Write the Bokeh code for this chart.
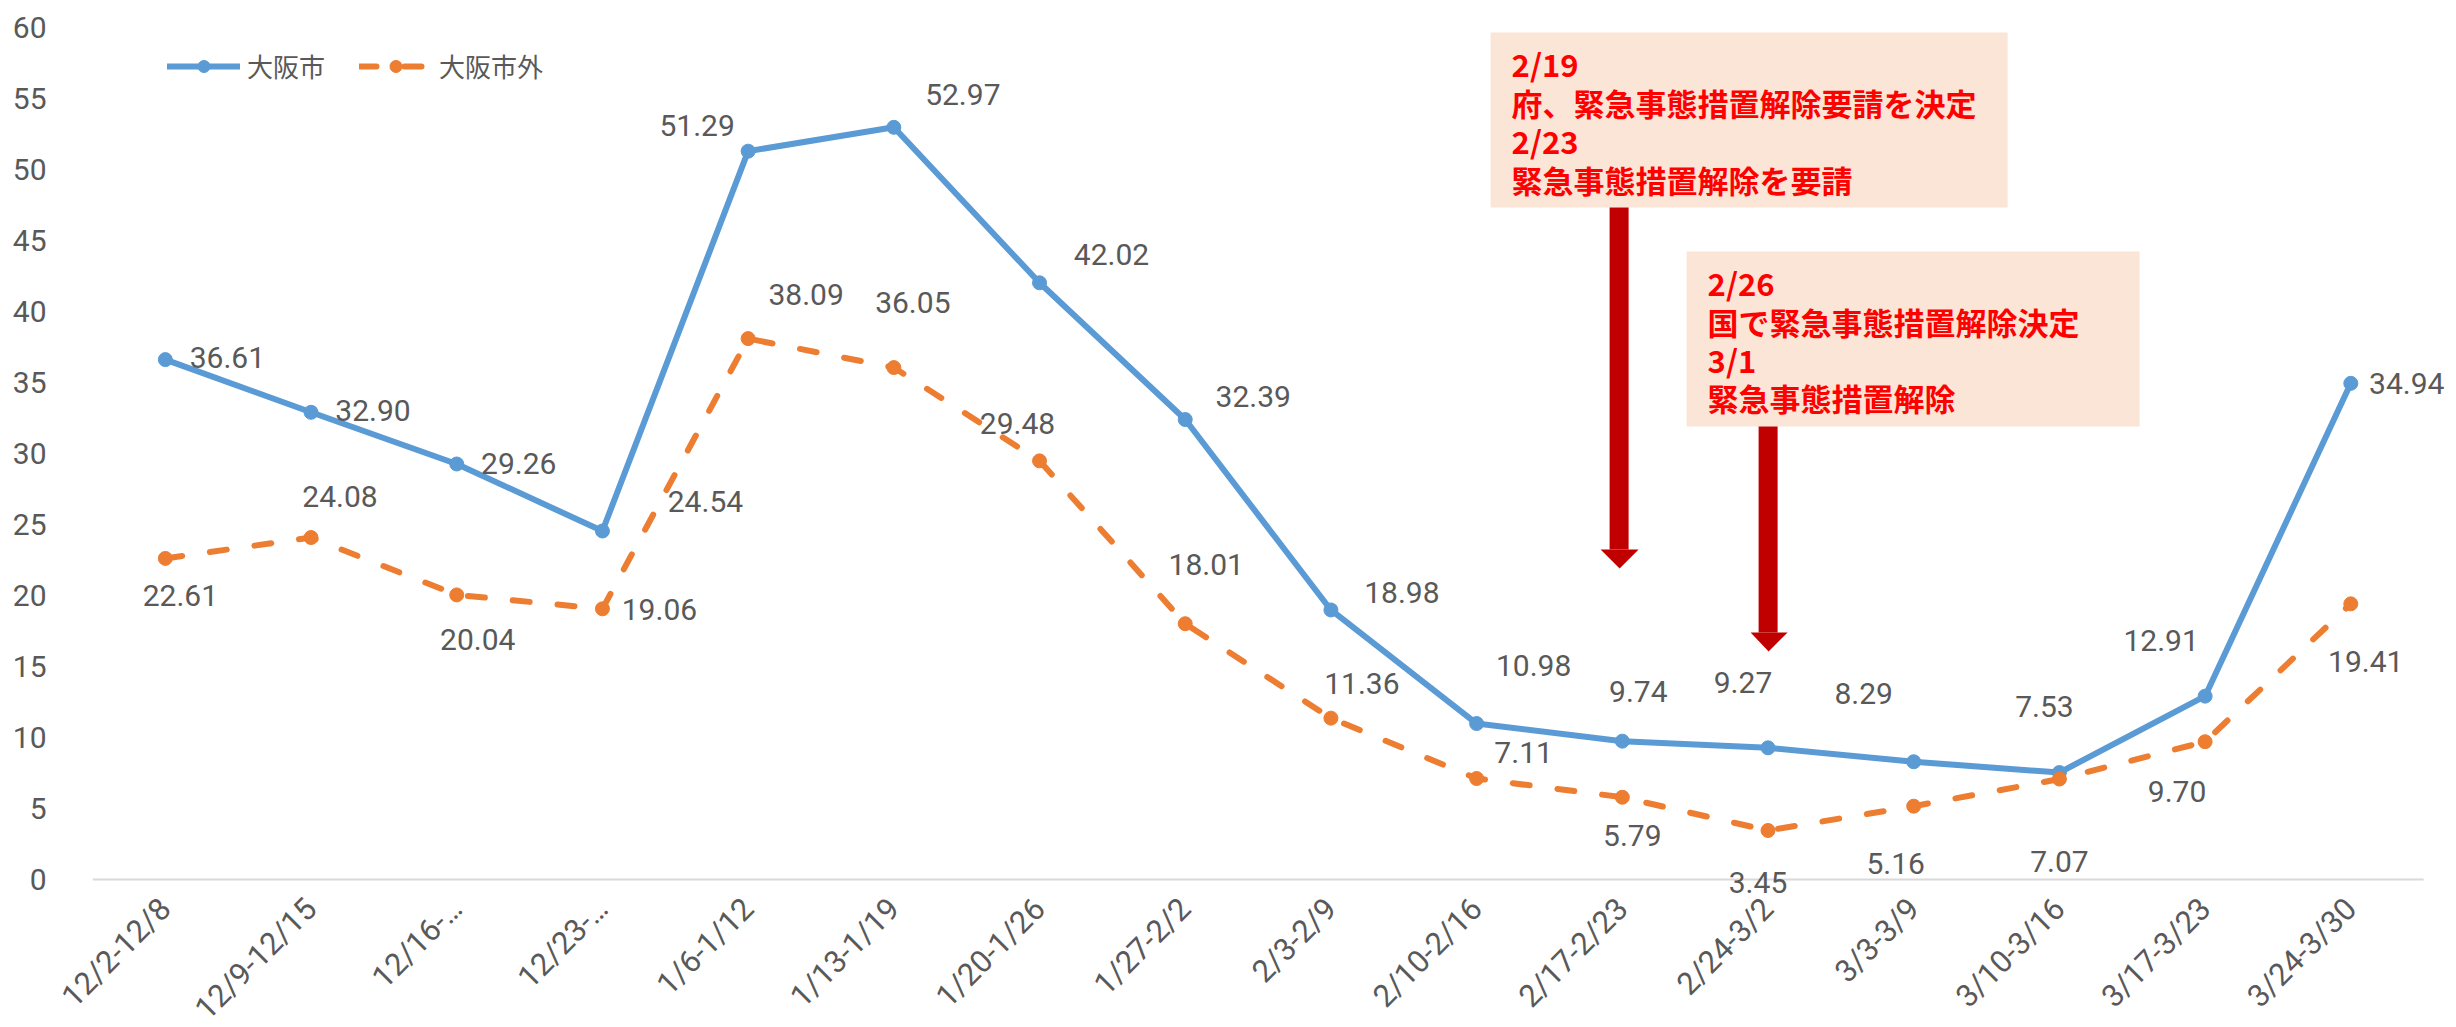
import numpy as np
from bokeh.plotting import figure
from bokeh.models import (ColumnDataSource, LabelSet, Legend, LegendItem, FixedTicker,
                          BoxAnnotation, PolyAnnotation, Label, Range1d)
from bokeh.embed import file_html
from bokeh.resources import INLINE
from bokeh.core.properties import value

# ---------------- data ----------------
weeks = ["12/2-12/8", "12/9-12/15", "12/16-…", "12/23-…", "1/6-1/12", "1/13-1/19",
         "1/20-1/26", "1/27-2/2", "2/3-2/9", "2/10-2/16", "2/17-2/23", "2/24-3/2",
         "3/3-3/9", "3/10-3/16", "3/17-3/23", "3/24-3/30"]
osaka_city = [36.61, 32.90, 29.26, 24.54, 51.29, 52.97, 42.02, 32.39, 18.98, 10.98,
              9.74, 9.27, 8.29, 7.53, 12.91, 34.94]
outside_city = [22.61, 24.08, 20.04, 19.06, 38.09, 36.05, 29.48, 18.01, 11.36, 7.11,
                5.79, 3.45, 5.16, 7.07, 9.70, 19.41]
series_names = ["大阪市", "大阪市外"]
y_ticks = [0, 5, 10, 15, 20, 25, 30, 35, 40, 45, 50, 55, 60]
note1_lines = ["2/19", "府、緊急事態措置解除要請を決定", "2/23", "緊急事態措置解除を要請"]
note2_lines = ["2/26", "国で緊急事態措置解除決定", "3/1", "緊急事態措置解除"]

# ---------------- label placement (screen px, +down) ----------------
city_dx = [62, 62, 62, 103, -51, 69, 72, 68, 71, 57, 16, -25, -50, -15, -44, 56]
city_dy = [-2, -2, 0, -30, -26, -33, -28, -23, -17, -58, -50, -65, -68, -66, -56, 0]
out_dx = [15, 29, 21, 57, 58, 19, -22, 21, 31, 47, 10, -10, -18, 0, -28, 15]
out_dy = [37, -41, 45, 1, -44, -65, -37, -59, -35, -26, 38, 52, 57, 82, 50, 58]

BLUE = "#5B9BD5"
ORANGE = "#ED7D31"
GRAY = "#595959"
NUM_FONT = "Roboto"
CJK_FONT = "Noto Sans CJK JP"

n = len(weeks)
xs = list(range(n))

src = ColumnDataSource(dict(
    x=xs,
    city=osaka_city,
    outside=outside_city,
    city_lbl=[f"{v:.2f}" for v in osaka_city],
    out_lbl=[f"{v:.2f}" for v in outside_city],
    city_dx=city_dx,
    city_dy=[-d for d in city_dy],
    out_dx=out_dx,
    out_dy=[-d for d in out_dy],
))

# geometry: one category = 145.69 px, one y unit = 14.2 px
PX_PER_X = 2331 / 16.0
PX_PER_Y = 14.2
X_LO, X_HI = -0.5, n - 0.5 + 0.15
Y_LO, Y_HI = -1.2, 60
FRAME_W = int(round((X_HI - X_LO) * PX_PER_X))
FRAME_H = int(round((Y_HI - Y_LO) * PX_PER_Y))
BL, BT = 92, 27

p = figure(x_range=Range1d(X_LO, X_HI), y_range=Range1d(Y_LO, Y_HI),
           frame_width=FRAME_W, frame_height=FRAME_H,
           min_border_left=BL, min_border_right=4, min_border_top=BT, min_border_bottom=126,
           output_backend="svg", toolbar_location=None,
           background_fill_color="white", border_fill_color="white",
           outline_line_color=None)
p.xgrid.visible = False
p.ygrid.visible = False

FRAME_LEFT_PAGE = BL
Y0_PAGE = BT + Y_HI * PX_PER_Y


def dxp(px):
    return (px - FRAME_LEFT_PAGE) / PX_PER_X + X_LO


def dyp(py):
    return (Y0_PAGE - py) / PX_PER_Y


# axes
xa = p.xaxis[0]
xa.ticker = FixedTicker(ticks=xs)
xa.major_label_overrides = {i: w for i, w in enumerate(weeks)}
xa.major_label_orientation = np.pi / 4
xa.major_tick_line_color = None
xa.minor_tick_line_color = None
xa.axis_line_color = None
xa.major_label_text_font = NUM_FONT
xa.major_label_text_font_size = "31px"
xa.major_label_text_color = GRAY
xa.major_label_standoff = 1

ya = p.yaxis[0]
ya.ticker = FixedTicker(ticks=y_ticks)
ya.axis_line_color = None
ya.major_tick_line_color = None
ya.minor_tick_line_color = None
ya.major_label_text_font = NUM_FONT
ya.major_label_text_font_size = "30px"
ya.major_label_text_color = GRAY
ya.major_label_standoff = 40

# category axis baseline at y = 0
p.add_layout(BoxAnnotation(left=-0.5, right=n - 0.5, top=1.0 / PX_PER_Y, bottom=-1.0 / PX_PER_Y,
                           fill_color="#D9D9D9", fill_alpha=1, line_color=None,
                           level="underlay"))

# series
l1 = p.line("x", "city", source=src, line_color=BLUE, line_width=6,
            line_join="round", line_cap="round")
m1 = p.scatter("x", "city", source=src, size=14, fill_color=BLUE, line_color=BLUE)
l2 = p.line("x", "outside", source=src, line_color=ORANGE, line_width=6,
            line_dash="17 28", line_cap="round", line_join="round")
m2 = p.scatter("x", "outside", source=src, size=14, fill_color=ORANGE, line_color=ORANGE)

# data labels
for col, lbl, ox, oy in (("city", "city_lbl", "city_dx", "city_dy"),
                         ("outside", "out_lbl", "out_dx", "out_dy")):
    p.add_layout(LabelSet(x="x", y=col, text=lbl, source=src,
                          x_offset=ox, y_offset=oy,
                          text_align="center", text_baseline="middle",
                          text_font=value(NUM_FONT), text_font_size="30px",
                          text_color=GRAY))

# annotation boxes (page px geometry)
BOX_FILL = "#FBE5D6"
ARROW = "#C00000"
p.add_layout(BoxAnnotation(left=dxp(1490), right=dxp(2007), top=dyp(32), bottom=dyp(207),
                           fill_color=BOX_FILL, fill_alpha=1, line_color=None))
p.add_layout(BoxAnnotation(left=dxp(1686), right=dxp(2139), top=dyp(251), bottom=dyp(426),
                           fill_color=BOX_FILL, fill_alpha=1, line_color=None))

# arrows
for (sx0, sx1, top, base, hx0, hx1, tipx, tipy) in (
        (1609, 1628, 207, 549, 1600, 1638, 1619, 568),
        (1758, 1777, 426, 632, 1750, 1787, 1768, 651)):
    p.add_layout(BoxAnnotation(left=dxp(sx0), right=dxp(sx1), top=dyp(top), bottom=dyp(base),
                               fill_color=ARROW, fill_alpha=1, line_color=None))
    p.add_layout(PolyAnnotation(xs=[dxp(hx0), dxp(hx1), dxp(tipx)],
                                ys=[dyp(base), dyp(base), dyp(tipy)],
                                fill_color=ARROW, fill_alpha=1, line_color=None))

# box texts
for lines, left, centers in ((note1_lines, 1511, [63.5, 102.5, 140.5, 179.0]),
                             (note2_lines, 1707, [282.5, 321.0, 359.5, 397.5])):
    for t, cy in zip(lines, centers):
        p.add_layout(Label(x=dxp(left), y=dyp(cy), text=t,
                           text_font=CJK_FONT, text_font_style="bold",
                           text_font_size="31px", text_color="#FF0000",
                           text_align="left", text_baseline="middle"))

# legend
legend = Legend(items=[LegendItem(label=series_names[0], renderers=[l1, m1]),
                       LegendItem(label=series_names[1], renderers=[l2, m2])],
                orientation="horizontal", location=(75, 812),
                glyph_width=73, glyph_height=30, label_standoff=7, spacing=34,
                padding=0, margin=0, border_line_color=None, background_fill_alpha=0,
                label_text_font=CJK_FONT, label_text_font_size="26px",
                label_text_color=GRAY)
p.add_layout(legend)

open("out.html", "w").write(file_html(p, INLINE))
